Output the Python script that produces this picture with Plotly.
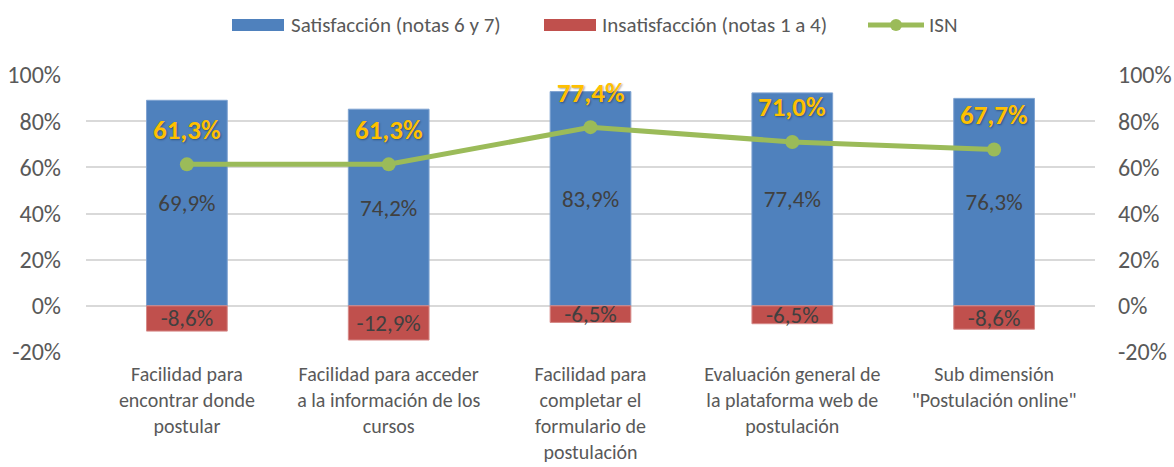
import plotly.graph_objects as go

# =========================================================
# DATA
# =========================================================
categorias = [
    "Facilidad para<br>encontrar donde<br>postular",
    "Facilidad para acceder<br>a la información de los<br>cursos",
    "Facilidad para<br>completar el<br>formulario de<br>postulación",
    "Evaluación general de<br>la plataforma web de<br>postulación",
    "Sub dimensión<br>\"Postulación online\"",
]
satisfaccion = [69.9, 74.2, 83.9, 77.4, 76.3]
insatisfaccion = [8.6, 12.9, 6.5, 6.5, 8.6]
isn = [61.3, 61.3, 77.4, 71.0, 67.7]

serie_nombres = ["Satisfacción (notas 6 y 7)", "Insatisfacción (notas 1 a 4)", "ISN"]

# =========================================================
# STYLE
# =========================================================
W, H = 1174, 467
ML, MR, MT, MB = 86, 79, 75, 115
BLUE = "#4F81BD"
RED = "#C0504D"
GREEN = "#9BBB59"
GOLD = "#FFC000"
GRID = "#D9D9D9"
TICK = "#595959"
LABEL = "#404040"
FONT = "Carlito, Calibri, 'Liberation Sans', Arial, sans-serif"


def fmt(v):
    return f"{v:.1f}%".replace(".", ",")


def px_x(p):
    # pixel -> paper x
    return (p - ML) / (W - ML - MR)


def px_y(p):
    # pixel -> paper y
    return (H - MB - p) / (H - MT - MB)


# 100% stacked: each bar is shown as share of (satisfaccion + insatisfaccion)
total = [s + i for s, i in zip(satisfaccion, insatisfaccion)]
sat_share = [s / t * 100 for s, t in zip(satisfaccion, total)]
ins_share = [-i / t * 100 for i, t in zip(insatisfaccion, total)]

fig = go.Figure()

fig.add_trace(go.Bar(
    x=categorias, y=sat_share, name=serie_nombres[0],
    marker=dict(color=BLUE, line=dict(color="#7FA3D1", width=1)),
    text=[fmt(v) for v in satisfaccion], textposition="inside",
    insidetextanchor="middle", constraintext="none",
    textfont=dict(size=23, color=LABEL, family=FONT),
    hoverinfo="skip",
))
fig.add_trace(go.Bar(
    x=categorias, y=ins_share, name=serie_nombres[1],
    marker=dict(color=RED, line=dict(color="#D68A88", width=1)),
    text=["-" + fmt(v) for v in insatisfaccion], textposition="inside",
    insidetextanchor="middle", constraintext="none",
    textfont=dict(size=23, color=LABEL, family=FONT),
    hoverinfo="skip",
))
fig.add_trace(go.Scatter(
    x=categorias, y=isn, name=serie_nombres[2], mode="lines+markers",
    line=dict(color=GREEN, width=5),
    marker=dict(color=GREEN, size=14),
    yaxis="y2",
))

for c, v in zip(categorias, isn):
    fig.add_annotation(
        x=c, y=v, yref="y2", text=f"<b>{fmt(v)}</b>", showarrow=False,
        yshift=35,
        font=dict(size=27, color=GOLD, family=FONT,
                  shadow="1px 1px 2px rgba(0,0,0,0.35)"),
    )

# ---- custom legend (wide swatches like the original) ----
ly = 25
fig.add_shape(type="rect", xref="paper", yref="paper",
              x0=px_x(232), x1=px_x(284), y0=px_y(31), y1=px_y(19),
              fillcolor=BLUE, line=dict(width=0))
fig.add_shape(type="rect", xref="paper", yref="paper",
              x0=px_x(544), x1=px_x(596), y0=px_y(31), y1=px_y(19),
              fillcolor=RED, line=dict(width=0))
fig.add_shape(type="line", xref="paper", yref="paper",
              x0=px_x(868), x1=px_x(924), y0=px_y(ly), y1=px_y(ly),
              line=dict(color=GREEN, width=5))
fig.add_shape(type="circle", xref="paper", yref="paper",
              x0=px_x(890), x1=px_x(902), y0=px_y(ly + 6), y1=px_y(ly - 6),
              fillcolor=GREEN, line=dict(width=0))
for name, x in zip(serie_nombres, [289, 600, 927]):
    fig.add_annotation(x=px_x(x), y=px_y(ly), xref="paper", yref="paper",
                       text=name, showarrow=False, xanchor="left",
                       yanchor="middle",
                       font=dict(size=21, color=TICK, family=FONT))

ticks = [-20, 0, 20, 40, 60, 80, 100]
tick_text = [f"{t}%" for t in ticks]

fig.update_layout(
    width=W, height=H,
    barmode="relative", bargap=0.6,
    paper_bgcolor="white", plot_bgcolor="white",
    margin=dict(l=ML, r=MR, t=MT, b=MB, autoexpand=False),
    font=dict(family=FONT, color=TICK, size=20),
    showlegend=False,
    xaxis=dict(showgrid=False, tickfont=dict(size=20, color=TICK),
               ticks="", showline=False, ticklabelstandoff=8),
    yaxis=dict(range=[-20, 100], tickvals=ticks, ticktext=tick_text,
               showgrid=True, gridcolor=GRID, gridwidth=1.5,
               zeroline=False, tickfont=dict(size=24, color=TICK),
               ticklabelstandoff=24),
    yaxis2=dict(range=[-20, 100], tickvals=ticks, ticktext=tick_text,
                overlaying="y", side="right", showgrid=False,
                zeroline=False, tickfont=dict(size=24, color=TICK),
                ticklabelstandoff=22),
)

# page margin off so the chart sits at the top-left corner of the window
fig.write_html("out.html", config={"displayModeBar": False},
               post_script="document.body.style.margin='0';")
